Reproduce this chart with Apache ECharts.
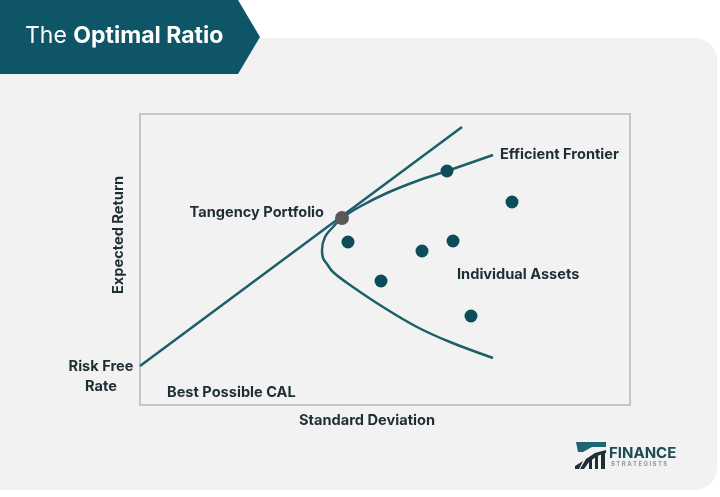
<!DOCTYPE html>
<html>
<head>
<meta charset="utf-8">
<script src="https://cdn.jsdelivr.net/npm/echarts@6/dist/echarts.min.js"></script>
<style>
  html, body { margin: 0; padding: 0; background: #ffffff; }
  #main { width: 720px; height: 497px; }
</style>
</head>
<body>
<div id="main"></div>
<script>
// values (sigma on x, expected return on y, arbitrary units)
var calLine = [[0, 3.9], [32.2, 27.8]];            // best possible CAL
var frontier = [                                   // efficient frontier, upper end -> lower end
  [35.3, 25.0], [30.7, 23.4], [27.7, 22.4], [24.7, 21.2], [22.1, 19.9],
  [20.2, 18.7], [19.3, 17.8], [18.5, 16.8], [18.2, 15.5], [18.3, 14.7],
  [18.7, 14.1], [19.3, 13.3], [21.0, 12.0], [24.3, 9.8], [27.7, 7.8],
  [31.0, 6.3], [35.3, 4.7]
];
var assets = [[30.7, 23.4], [37.2, 20.3], [20.8, 16.3], [28.2, 15.4], [31.3, 16.4], [24.1, 12.4], [33.1, 8.9]];
var tangency = [[20.2, 18.7]];

var lineColor = '#1d5f68';
var dotColor = '#0b4e59';
var txt = '#1f2e33';
var font = 'Inter, Roboto, sans-serif';

var myChart = echarts.init(document.getElementById('main'));

function label(x, y, text, align) {
  return {
    type: 'text', x: x, y: y, z: 5,
    style: { text: text, fill: txt, font: 'bold 14.6px ' + font, align: align || 'left', verticalAlign: 'middle' }
  };
}

var option = {
  backgroundColor: '#ffffff',
  animation: false,
  grid: {
    left: 140, top: 114, width: 490, height: 291,
    show: true, borderColor: '#c6c6c6', borderWidth: 2, backgroundColor: 'transparent'
  },
  xAxis: {
    type: 'value', min: 0, max: 49,
    axisLine: { show: false }, axisTick: { show: false }, axisLabel: { show: false }, splitLine: { show: false }
  },
  yAxis: {
    type: 'value', min: 0, max: 29.1,
    axisLine: { show: false }, axisTick: { show: false }, axisLabel: { show: false }, splitLine: { show: false }
  },
  graphic: [
    // card
    { type: 'rect', z: -10, shape: { x: 0, y: 38, width: 717, height: 452, r: [0, 22, 22, 0] }, style: { fill: '#f2f2f2' } },
    // banner
    { type: 'polygon', z: -5, shape: { points: [[0, 0], [238, 0], [260, 37], [238, 74], [0, 74]] }, style: { fill: '#0e5667' } },
    {
      type: 'text', x: 25, y: 36, z: 5,
      style: {
        text: '{r|The }{b|Optimal Ratio}',
        verticalAlign: 'middle',
        rich: {
          r: { fill: '#ffffff', font: '23px ' + font },
          b: { fill: '#ffffff', font: 'bold 23px ' + font }
        }
      }
    },
    // labels
    label(500, 155, 'Efficient Frontier'),
    label(324, 213, 'Tangency Portfolio', 'right'),
    label(457, 275, 'Individual Assets'),
    label(167, 393, 'Best Possible CAL'),
    label(101, 367, 'Risk Free', 'center'),
    label(101, 387, 'Rate', 'center'),
    label(367, 421, 'Standard Deviation', 'center'),
    {
      type: 'text', x: 119, y: 235, rotation: Math.PI / 2, z: 5,
      style: { text: 'Expected Return', fill: txt, font: 'bold 14.6px ' + font, align: 'center', verticalAlign: 'middle' }
    },
    // logo
    { type: 'polygon', z: 5, shape: { points: [[576, 442], [606, 442], [606, 447], [592, 447], [583, 452], [578, 452]] }, style: { fill: '#1f6675' } },
    { type: 'polygon', z: 5, shape: { points: [[575, 469], [580, 469], [586, 459], [595, 453], [606, 450], [606, 453], [597, 456], [589, 462], [584, 469], [579, 469], [583, 461], [575, 466]] }, style: { fill: '#1d2f35' } },
    { type: 'rect', z: 5, shape: { x: 589, y: 459, width: 3, height: 10 }, style: { fill: '#1d2f35' } },
    { type: 'rect', z: 5, shape: { x: 595, y: 455, width: 3, height: 14 }, style: { fill: '#1d2f35' } },
    { type: 'rect', z: 5, shape: { x: 601, y: 452, width: 4, height: 17 }, style: { fill: '#1d2f35' } },
    { type: 'text', x: 609, y: 453, z: 5, style: { text: 'FINANCE', fill: '#1e4b58', font: 'bold 15px ' + font, verticalAlign: 'middle' } },
    { type: 'text', x: 611, y: 464, z: 5, style: { text: 'S T R A T E G I S T S', fill: '#8b9ca1', font: 'bold 6px ' + font, verticalAlign: 'middle' } }
  ],
  series: [
    {
      name: 'Best Possible CAL', type: 'line', data: calLine, symbol: 'none', z: 2,
      lineStyle: { color: lineColor, width: 2.5 }
    },
    {
      name: 'Efficient Frontier', type: 'line', data: frontier, symbol: 'none', smooth: 0.35, z: 2,
      lineStyle: { color: lineColor, width: 2.5 }
    },
    {
      name: 'Individual Assets', type: 'scatter', data: assets, symbolSize: 13, z: 3,
      itemStyle: { color: dotColor, opacity: 1 }
    },
    {
      name: 'Tangency Portfolio', type: 'scatter', data: tangency, symbolSize: 14, z: 4,
      itemStyle: { color: '#5d5858', opacity: 1 }
    }
  ]
};
myChart.setOption(option);
</script>
</body>
</html>
